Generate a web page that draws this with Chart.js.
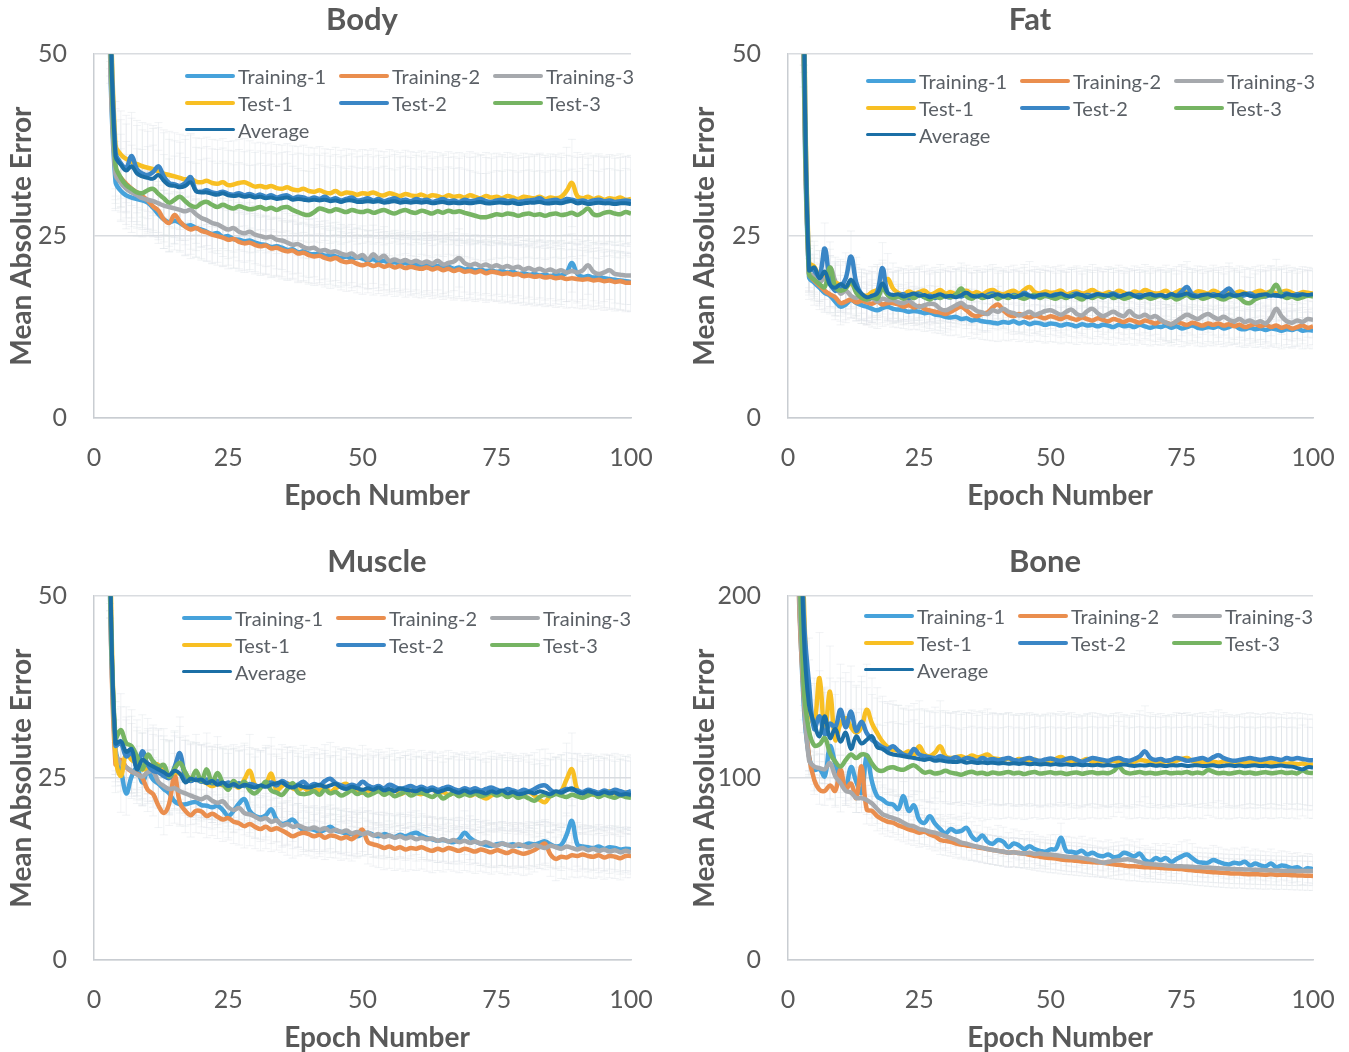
<!DOCTYPE html>
<html>
<head>
<meta charset="utf-8">
<script src="https://cdn.jsdelivr.net/npm/chart.js@4.4.0/dist/chart.umd.min.js"></script>
<style>
  html, body { margin: 0; padding: 0; background: #fff; overflow: hidden; width: 1349px; height: 1052px; }
  .panel { position: absolute; }
  .legend { position: absolute; display: grid; grid-template-columns: 154px 154px 154px; grid-auto-rows: 27px;
            font: 20px Lato, sans-serif; color: #5b6066; }
  .item { display: flex; align-items: center; white-space: nowrap; }
  .swatch { width: 50px; height: 4px; border-radius: 2px; margin-right: 3px; flex: none; }
</style>
</head>
<body>
<div class="panel" style="left:0;top:0;width:674px;height:510px"><canvas id="body"></canvas></div>
<div class="panel" style="left:674px;top:0;width:675px;height:510px"><canvas id="fat"></canvas></div>
<div class="panel" style="left:0;top:542px;width:674px;height:510px"><canvas id="muscle"></canvas></div>
<div class="panel" style="left:674px;top:542px;width:675px;height:510px"><canvas id="bone"></canvas></div>

<script>
// series names and colours
const seriesNames = ['Training-1', 'Training-2', 'Training-3', 'Test-1', 'Test-2', 'Test-3', 'Average'];
const seriesColors = ['#46a2db', '#ea8e4e', '#a6a9ad', '#f8bf23', '#3a86c6', '#76b463', '#1b6fa6'];

// epochs 1..100
const epochs = [];
for (let i = 1; i <= 100; i++) epochs.push(i);

// ---------- Body ----------
const bodyTraining1 = [230,100,50,32.5,31.2,30.6,30.3,30.1,29.9,29.6, 28.9,28.0,27.3,26.9,27.1,26.8,26.4,26.5,26.1,25.9,
  25.6,25.3,25.4,24.9,25.0,24.6,24.5,24.3,24.4,24.1, 23.9,23.8,23.5,23.6,23.4,23.1,23.2,22.8,22.9,22.6,
  22.5,22.6,22.3,22.4,22.2,22.0,22.2,21.9,22.1,21.9, 21.7,21.8,21.5,21.6,21.3,21.4,21.2,21.3,21.0,21.1,
  20.9,21.0,20.8,20.9,20.7,20.8,20.5,20.7,20.4,20.5, 20.3,20.4,20.2,20.3,20.1,20.2,20.0,20.1,19.8,19.9,
  19.7,19.8,19.6,19.7,19.5,19.7,19.6,20.0,21.3,19.8, 19.4,19.5,19.3,19.4,19.2,19.1,19.0,18.9,18.8,18.7];
const bodyTraining2 = [240,105,52,34.0,33.0,32.2,31.5,31.0,30.5,29.9, 29.1,28.5,27.3,26.8,27.9,27.0,26.3,25.9,26.1,25.7,
  25.5,25.2,25.0,24.8,24.5,24.6,24.2,24.0,24.1,23.8, 23.6,23.7,23.3,23.4,23.1,22.9,23.0,22.6,22.7,22.4,
  22.2,22.3,22.0,21.8,22.0,21.6,21.4,21.5,21.2,21.0, 21.2,20.9,21.1,20.8,21.0,20.7,20.9,20.6,20.8,20.6,
  20.5,20.7,20.4,20.6,20.3,20.5,20.2,20.4,20.1,20.2, 20.0,20.2,19.9,20.1,20.0,19.8,19.9,19.7,19.8,19.5,
  19.6,19.4,19.5,19.3,19.4,19.2,19.3,19.1,19.2,19.1, 19.0,19.1,18.9,19.0,18.8,18.9,18.7,18.8,18.6,18.6];
const bodyTraining3 = [235,102,51,33.5,32.3,31.5,31.0,30.6,30.2,30.0, 29.8,29.5,29.2,29.0,28.8,28.6,28.4,28.6,28.0,27.5,
  27.2,26.8,26.6,26.2,25.9,26.1,25.6,25.4,25.6,25.2, 25.0,24.8,24.9,24.5,24.4,24.1,23.8,23.9,23.5,23.3,
  23.4,23.0,23.1,22.8,22.9,22.6,22.4,22.6,22.1,22.4, 21.8,22.5,21.9,22.3,21.6,21.8,21.5,21.7,21.4,21.6,
  21.3,21.5,21.2,21.6,21.1,21.3,21.5,22.0,21.3,21.0, 21.2,20.9,21.1,20.8,21.0,20.7,20.9,20.6,20.8,20.4,
  20.6,20.3,20.5,20.2,20.4,20.1,20.3,20.0,20.2,20.0, 20.3,21.0,20.1,19.8,20.0,20.3,19.8,19.7,19.6,19.6];
const bodyTest1 = [300,130,62,37.5,36.2,35.6,35.2,34.9,34.6,34.4, 34.2,33.9,33.6,33.4,33.2,33.0,32.8,32.9,32.5,32.4,
  32.6,32.3,32.2,32.4,32.0,32.1,32.3,32.4,32.1,31.8, 31.9,31.7,31.9,31.6,31.5,31.7,31.4,31.3,31.5,31.2,
  31.1,31.3,31.0,30.9,31.2,30.8,31.0,30.9,30.7,30.9, 30.8,31.0,30.7,30.6,30.9,30.7,30.5,30.8,30.6,30.5,
  30.7,30.4,30.6,30.5,30.3,30.6,30.4,30.5,30.3,30.6, 30.4,30.2,30.5,30.3,30.4,30.2,30.5,30.3,30.1,30.4,
  30.3,30.2,30.4,30.1,30.3,30.2,30.4,31.2,32.3,30.5, 30.2,30.4,30.1,30.3,30.0,30.2,30.1,30.3,30.0,30.1];
const bodyTest2 = [280,125,60,36.5,35.0,34.4,36.0,34.2,33.6,33.4, 33.8,34.6,33.2,32.3,32.1,31.9,32.3,33.1,31.2,31.1,
  31.3,31.0,30.9,31.1,30.8,30.7,30.9,30.6,30.8,30.5, 30.7,30.4,30.6,30.3,30.5,30.6,30.2,30.4,30.3,30.1,
  30.3,30.1,30.4,30.0,30.2,29.9,30.1,30.3,29.9,30.0, 30.2,29.9,30.1,29.8,30.0,30.2,29.9,30.0,29.8,30.1,
  29.9,30.0,29.7,29.9,30.1,29.8,29.9,29.7,30.0,29.8, 29.9,30.1,29.8,29.7,29.9,30.0,29.8,29.9,29.7,29.8,
  29.9,30.0,30.2,29.8,29.9,30.0,29.8,30.1,30.0,29.8, 29.9,29.7,29.9,30.0,29.8,29.9,29.7,29.8,29.9,29.8];
const bodyTest3 = [260,115,55,34.8,33.0,32.0,31.5,31.0,30.9,31.3, 31.5,30.8,30.2,29.6,30.0,30.4,29.8,29.2,29.0,29.5,
  29.7,29.3,29.0,29.3,29.0,28.8,29.1,28.9,28.7,28.8, 29.0,28.7,28.9,28.6,28.9,29.0,28.6,28.3,28.0,27.9,
  28.3,28.8,28.6,28.4,28.7,28.5,28.3,28.6,28.4,28.3, 28.5,28.2,28.4,28.6,28.3,28.1,28.4,28.6,28.3,28.2,
  28.5,28.3,28.1,28.4,28.2,28.5,28.3,28.4,28.2,28.0, 27.8,27.6,27.6,27.8,28.0,27.9,28.1,28.0,27.8,28.0,
  28.1,27.9,28.0,27.8,28.0,28.1,27.9,28.0,28.2,27.9, 28.3,28.8,28.0,27.9,28.2,28.3,28.1,28.0,28.3,28.1];
const bodyAverage = [270,120,58,36.0,34.8,34.0,34.6,33.6,33.2,33.0, 32.9,33.4,32.6,32.0,31.9,31.7,31.9,32.4,31.2,31.0,
  31.0,30.8,30.7,30.9,30.6,30.5,30.6,30.4,30.5,30.3, 30.4,30.2,30.3,30.1,30.2,30.3,30.0,30.1,30.0,29.9,
  30.0,29.9,30.0,29.8,29.9,29.7,29.9,29.9,29.7,29.7, 29.8,29.7,29.8,29.6,29.7,29.8,29.6,29.7,29.6,29.7,
  29.6,29.7,29.5,29.6,29.7,29.5,29.6,29.5,29.6,29.5, 29.6,29.7,29.5,29.5,29.6,29.6,29.5,29.6,29.4,29.5,
  29.6,29.6,29.7,29.5,29.5,29.6,29.5,29.7,29.8,29.5, 29.6,29.4,29.5,29.6,29.5,29.5,29.4,29.5,29.5,29.4];
const bodyErr = [4, 4, 4, 6, 6, 6, 0];

// ---------- Fat ----------
const fatTraining1 = [230,100,48,19.4,18.6,17.9,17.2,16.8,16.0,15.3, 15.6,16.2,15.8,15.5,15.3,15.0,14.8,15.1,15.3,15.0,
  14.9,14.8,14.6,14.7,14.6,14.4,14.5,14.2,14.1,13.9, 13.8,13.9,13.6,13.7,13.4,13.5,13.3,13.2,13.1,13.0,
  13.2,13.1,13.3,13.0,13.2,12.9,13.1,13.0,12.8,13.0, 12.9,12.7,12.9,12.8,12.6,12.9,12.7,12.8,12.6,12.8,
  12.7,12.5,12.8,12.6,12.7,12.5,12.8,12.6,12.4,12.6, 12.5,12.7,12.4,12.6,12.3,12.5,12.7,12.4,12.3,12.5,
  12.4,12.6,12.3,12.5,12.7,12.3,12.2,12.4,12.2,12.3, 12.1,12.3,12.2,12.0,12.2,12.1,12.3,12.0,12.1,12.0];
const fatTraining2 = [235,102,50,19.8,18.9,18.2,17.5,17.0,16.6,15.8, 16.0,16.3,15.9,16.1,15.9,15.7,16.0,15.6,15.8,15.8,
  15.6,15.3,15.5,15.2,15.4,15.0,14.8,14.6,14.5,14.3, 14.6,15.0,15.3,14.8,14.2,14.0,14.3,14.5,15.2,15.6,
  14.8,14.2,14.0,14.3,14.0,13.8,14.1,13.9,13.7,14.0, 13.8,13.6,13.9,13.7,13.5,13.8,13.6,13.4,13.7,13.5,
  13.3,13.6,13.4,13.2,13.5,13.3,13.1,13.4,13.2,13.0, 13.3,13.1,12.9,13.2,13.0,12.8,13.1,12.9,12.7,13.0,
  12.8,13.0,12.7,12.9,12.6,12.8,12.5,12.7,12.9,12.6, 12.8,12.5,12.7,12.4,12.6,12.3,12.5,12.7,12.4,12.6];
const fatTraining3 = [240,104,51,20.0,19.5,18.7,19.4,20.7,18.8,17.1, 17.5,16.8,16.5,16.9,16.2,16.5,16.0,16.4,16.2,16.2,
  15.9,15.8,16.1,15.6,15.3,15.5,15.7,15.6,15.0,14.8, 15.1,15.5,15.8,15.3,15.2,14.7,14.5,14.3,14.8,14.6,
  15.0,14.6,14.4,14.1,14.3,14.6,14.2,14.4,14.7,14.8, 14.5,14.2,14.6,14.9,14.3,14.1,14.7,15.0,14.4,14.0,
  14.3,14.6,14.2,14.0,14.7,14.1,13.9,14.2,13.8,14.0, 13.5,13.1,12.9,13.3,13.8,14.2,13.9,13.6,14.0,14.3,
  13.9,13.6,13.9,13.5,13.3,13.6,13.2,13.4,13.1,13.3, 13.0,13.8,15.0,14.0,13.3,13.1,13.4,13.2,13.6,13.5];
const fatTest1 = [270,118,60,21.4,20.8,19.5,19.8,18.8,18.6,18.3, 18.0,18.5,17.6,17.0,16.8,17.3,17.6,18.2,19.1,17.8,
  17.2,17.0,17.4,17.1,17.3,17.5,17.0,17.2,17.6,17.1, 17.3,17.0,17.2,17.5,17.1,17.3,17.0,17.4,17.6,17.2,
  17.0,17.3,17.5,17.1,17.6,18.0,17.3,17.1,17.4,17.2, 17.3,17.5,17.0,17.2,17.4,17.1,17.3,17.6,17.2,17.0,
  17.3,17.1,17.5,17.2,17.0,17.4,17.2,17.6,17.3,17.1, 17.2,17.5,17.0,17.3,17.6,17.2,17.0,17.4,17.3,17.1,
  17.5,17.2,17.0,17.3,17.1,17.4,17.2,17.0,17.3,17.5, 17.2,17.4,17.1,17.3,17.5,17.2,17.0,17.3,17.2,17.1];
const fatTest2 = [260,115,58,20.8,20.2,19.5,23.3,18.8,17.5,18.0, 19.2,22.2,18.6,16.9,16.4,16.6,17.3,20.6,17.0,16.6,
  16.8,17.0,16.5,16.9,17.1,16.6,16.8,16.5,16.9,16.7, 16.6,16.9,16.7,17.0,16.5,16.8,16.6,16.9,17.1,16.7,
  16.8,16.6,16.9,16.7,17.2,16.8,16.6,16.9,16.8,16.7, 17.0,16.8,16.6,16.9,17.1,16.7,16.9,16.8,17.0,16.6,
  16.9,17.1,16.8,16.7,17.0,16.8,16.9,16.7,17.0,16.8, 16.9,16.7,17.0,16.8,17.4,18.0,17.0,16.8,16.9,16.7,
  17.0,16.8,17.3,17.8,17.0,16.7,16.9,17.1,16.8,16.9, 16.7,17.0,16.8,16.9,17.1,16.8,17.0,16.9,16.8,17.0];
const fatTest3 = [240,105,52,19.8,19.0,18.4,18.0,20.7,18.0,17.5, 17.8,18.8,17.2,16.5,16.3,16.6,16.4,17.8,16.9,16.5,
  16.7,16.4,16.8,16.5,16.9,16.6,16.3,16.7,16.5,16.8, 16.6,17.0,17.8,16.7,16.4,16.8,16.5,16.7,16.9,16.4,
  16.7,16.5,16.8,16.6,16.4,16.7,16.9,16.5,16.8,16.6, 16.4,16.7,16.5,16.9,16.6,16.3,16.7,16.5,16.8,16.6,
  16.9,16.5,16.7,16.4,16.6,16.8,16.5,16.7,16.4,16.6, 16.8,16.5,16.7,16.3,16.6,16.9,16.5,16.7,16.4,16.6,
  16.8,16.5,16.3,16.6,16.8,16.5,15.9,15.8,16.3,16.6, 16.8,17.4,18.3,17.0,16.5,16.7,16.4,16.6,16.8,16.7];
const fatAverage = [250,110,55,20.3,20.7,19.2,20.1,18.3,17.9,18.4, 18.0,19.0,17.9,17.1,16.6,16.8,17.1,18.5,17.2,16.9,
  17.0,16.7,16.9,17.1,16.8,16.9,16.6,16.8,17.0,16.7, 16.8,16.6,16.9,17.2,16.8,16.7,16.9,16.6,16.8,17.0,
  16.7,16.9,16.6,16.8,17.0,16.8,16.7,16.9,17.0,16.8, 16.9,17.1,16.8,16.7,17.0,16.9,16.6,16.8,17.0,16.9,
  16.8,17.0,16.7,16.9,17.1,16.8,16.6,16.9,17.0,16.8, 16.9,16.7,17.0,16.8,16.9,17.1,16.8,16.7,16.9,17.0,
  16.8,16.9,16.7,17.0,16.8,16.9,17.1,16.8,16.7,16.9, 17.0,16.8,16.9,16.7,17.0,16.9,16.8,17.0,16.9,17.0];
const fatErr = [2.5, 2.5, 2.5, 3.5, 3.5, 3.5, 0];

// ---------- Muscle ----------
const muscleTraining1 = [240,100,50,29.0,26.2,22.9,25.2,26.4,24.4,25.9, 24.8,24.2,23.5,22.9,21.8,21.4,21.4,21.6,21.7,21.3,
  21.2,21.0,21.2,20.6,19.8,20.5,21.5,22.1,20.5,19.8, 19.6,19.9,20.7,19.3,18.7,18.9,19.3,18.5,17.9,18.0,
  17.9,17.6,17.9,18.3,17.8,17.6,17.4,17.3,17.0,17.3, 17.5,17.2,17.0,17.3,17.1,16.9,17.2,17.0,17.3,17.5,
  17.1,16.8,16.6,16.4,16.5,16.3,16.2,16.6,17.5,16.8, 16.3,16.0,15.8,15.7,15.9,16.0,15.8,15.9,15.7,15.8,
  16.0,15.9,16.1,16.3,15.9,15.6,15.8,17.2,19.1,15.9, 15.6,15.5,15.4,15.6,15.3,15.5,15.4,15.2,15.3,15.2];
const muscleTraining2 = [245,102,51,26.9,27.5,26.5,25.9,25.6,25.0,23.4, 22.8,21.2,20.2,21.5,25.4,21.6,20.5,19.9,20.5,20.4,
  19.8,20.1,19.7,19.3,19.5,19.0,18.8,18.4,18.7,18.3, 18.0,18.3,17.9,18.1,17.8,17.4,17.0,17.3,17.5,17.3,
  17.0,17.2,16.8,17.1,17.0,16.7,16.9,16.6,17.2,17.9, 16.2,15.9,15.7,15.4,15.6,15.3,15.5,15.2,15.4,15.3,
  15.5,15.2,15.0,15.3,15.1,15.4,15.2,15.0,15.3,15.1, 14.9,15.2,15.0,14.8,15.1,14.9,14.7,15.0,14.8,14.6,
  14.8,15.1,15.6,16.0,14.5,13.9,14.2,14.1,14.4,14.3, 14.5,14.3,14.2,14.4,14.1,14.3,14.2,14.0,14.3,14.3];
const muscleTraining3 = [242,101,50,28.5,27.0,26.5,26.0,25.5,25.2,25.8, 25.9,24.5,23.9,23.5,23.6,23.2,22.9,22.6,22.3,22.1,
  22.4,21.9,21.6,21.8,21.0,20.6,20.9,20.2,20.0,19.7, 19.3,19.5,19.0,19.2,18.5,18.7,18.3,18.5,18.2,18.0,
  18.2,17.9,18.1,17.7,17.9,17.6,17.8,17.4,17.6,17.3, 17.5,17.1,17.3,16.9,17.1,16.8,17.0,16.7,16.9,16.6,
  16.8,16.6,16.7,16.4,16.6,16.3,16.5,16.2,16.4,16.1, 16.3,16.0,16.2,15.9,15.7,16.0,15.8,15.6,15.9,15.7,
  15.5,15.8,15.6,15.4,15.7,15.5,15.3,15.6,15.4,15.2, 15.4,15.1,15.3,15.0,15.2,14.9,15.1,14.8,15.0,14.8];
const muscleTest1 = [270,115,58,28.0,25.3,28.4,27.5,27.0,26.2,26.5, 26.9,26.8,25.8,25.2,25.8,25.6,25.2,25.0,24.8,24.6,
  24.3,23.9,24.2,24.0,23.9,24.1,23.7,24.8,26.0,24.0, 23.8,24.2,25.6,23.3,23.9,24.3,23.6,23.4,23.7,23.2,
  23.5,23.3,23.8,23.1,23.6,24.0,24.2,23.4,23.2,23.0, 23.3,23.1,23.5,22.9,23.2,23.4,22.8,23.1,23.3,23.0,
  22.8,23.2,23.5,22.9,23.1,22.7,23.0,23.3,23.1,22.6, 22.8,22.5,22.2,22.6,22.9,23.1,22.8,23.0,22.7,22.9,
  23.1,22.6,22.0,21.7,22.6,22.9,23.2,24.8,26.2,23.4, 22.9,23.1,22.7,23.0,22.8,23.2,22.9,22.6,23.0,22.8];
const muscleTest2 = [255,108,54,29.5,29.8,28.0,28.5,26.5,28.7,26.8, 26.0,25.8,25.3,25.0,26.5,28.4,25.2,24.6,24.9,24.5,
  24.8,24.3,24.6,24.1,24.4,24.0,24.3,23.9,24.2,24.0, 23.8,24.1,24.4,24.0,24.6,24.2,23.8,24.1,24.5,23.9,
  24.2,24.0,24.6,24.9,24.3,24.0,23.8,24.1,23.9,24.5, 24.0,23.7,23.9,23.6,24.1,23.8,23.5,23.7,23.9,23.6,
  23.8,23.5,23.7,23.4,23.6,23.8,23.5,23.3,23.6,23.4, 23.6,23.3,23.5,23.7,23.4,23.2,23.5,23.3,23.1,23.4,
  23.2,23.5,23.9,24.0,23.4,22.9,23.2,23.5,23.4,23.3, 23.1,23.4,23.2,23.0,23.3,23.1,23.4,23.2,23.0,23.2];
const muscleTest3 = [250,108,53,30.5,31.6,29.8,29.4,28.0,26.2,28.2, 27.3,26.6,26.8,25.2,26.3,27.1,25.8,24.8,26.0,24.6,
  26.2,24.4,25.7,24.3,23.4,24.6,23.8,24.5,23.3,22.9, 23.6,24.5,23.3,23.0,22.7,23.5,24.3,23.0,22.8,22.9,
  23.2,22.7,23.4,22.9,23.1,22.6,22.9,23.3,22.8,23.1, 22.6,22.9,23.2,22.7,23.0,22.5,22.8,23.1,22.6,22.9,
  23.0,22.7,22.4,22.8,22.2,22.6,22.9,22.5,22.8,22.6, 22.9,22.5,22.7,23.0,22.6,22.8,22.4,22.7,22.3,22.5,
  22.2,21.9,22.4,22.7,22.5,22.8,22.6,22.4,22.7,22.5, 22.3,22.6,22.8,22.4,22.7,22.5,22.3,22.6,22.4,22.3];
const muscleAverage = [260,110,55,29.8,30.1,28.6,29.0,26.2,27.5,27.0, 26.6,26.2,25.8,25.4,26.0,25.6,24.4,24.9,24.7,24.8,
  24.3,24.6,24.1,24.4,23.9,24.2,23.8,24.1,23.9,23.7, 24.0,23.8,24.1,24.3,24.4,23.9,23.7,24.0,23.8,23.7,
  23.9,24.1,23.8,24.0,24.2,23.7,23.5,23.8,23.6,23.4, 23.6,23.4,23.7,23.3,23.5,23.2,23.6,23.4,23.3,23.2,
  23.5,23.2,23.4,23.1,23.3,23.5,23.2,23.0,23.3,23.0, 23.2,23.1,22.9,23.2,23.0,23.3,22.9,23.1,22.8,22.9,
  23.1,22.9,23.2,23.0,22.8,23.2,23.0,23.3,23.6,23.1, 22.9,23.2,23.0,22.8,23.1,22.9,23.0,22.7,22.8,22.7];
const muscleErr = [3, 3, 3, 5, 5, 5, 0];

// ---------- Bone ----------
const boneTraining1 = [500,220,140,112,104.6,105,101,117.5,108,100, 95.5,106,98,91.9,112.4,98,90,88.2,86,85.5,
  83,90.1,82,85,77,75.4,79,75,72,69.6, 72,70.5,71,72.7,68,66,68.5,65,63.9,66,
  65,62,64,63,61,62.5,61,60,59.5,60.8, 61,67.2,60,59.5,59,60,58,59,57.5,57,
  58,56.5,57,59,58,57,58.5,55,54,56, 55,56,54,55.5,57,58,56,54,53.5,53.5,
  55,54,53,52.5,53.5,53,54,52,53,52, 51.5,53,51,52,51.5,50.5,51,49.5,50.5,49.9];
const boneTraining2 = [480,210,145,112,99,93.6,93,96,93,104.6, 94,97,89.1,106.4,82.8,82,79,77.3,76,75.5,
  74,73,71.8,71,70,70.5,69,68,66,65.5, 65,64,63.5,63,62.7,62,61.5,61,60.5,60,
  59.5,59,59.2,58.8,58.5,57.8,57.3,56.8,56.4,56, 55.8,55.3,55,54.8,54.5,54.2,54,53.8,53.6,53.5,
  53,52.6,52.3,52,51.5,51.6,51.2,51,50.9,50.8, 50.6,50.4,50.3,50.1,50,49.6,49.3,49,48.8,48.5,
  48.3,48.1,47.9,47.7,47.5,47.6,47.3,47.1,47.2,47, 46.9,47.1,46.8,46.9,46.8,46.6,46.5,46.4,46.3,46.2];
const boneTraining3 = [490,215,148,110,106.4,105.5,104.9,108.2,101,97.3, 93,92,89.1,89,88,86,83,80.2,79,78,
  77,75.5,74,73.5,72,71.5,70.5,70,69,68.1, 67,66,64.5,64,63,62.4,61.8,61,60.5,60,
  59.6,59,59.2,58.8,58.6,58.9,58.3,58.5,58.1,58, 57.6,57.2,56.8,56.5,56.5,56,55.5,55,54.2,53.5,
  54,54.5,54.8,55.2,55.3,54.6,53.8,53,52.8,52.5, 52.3,52,51.8,51.6,51.5,51.4,51.2,51,50.9,50.8,
  50.6,50.4,50.3,50.1,50,49.9,49.8,49.7,49.6,49.5, 49.4,49.3,49.2,49.1,49,49,48.9,49,48.9,48.9];
const boneTest1 = [750,330,200,140,130,155,125,147.6,121,130, 133,128,125,128,137.6,130,124.7,120,117,115.5,
  115,113.5,114.7,112.5,117.5,113,112,114,117.5,112, 111,111.5,112,111,112.4,111.5,112,113,111,110.5,
  110,110.8,109.5,110.5,110,109.5,110.2,109,109.8,109.2, 110.5,111.6,110,109,108.5,109.5,110.5,109,108.5,109.3,
  108.8,109.5,108.7,109.2,108.5,109,110,109.5,108.8,109, 108.5,109.2,108.7,109.5,110.5,111,109.5,108.8,109,108.5,
  109,108.5,109.2,108.8,108.5,109,108.2,108.7,108.4,108.8, 108.2,108.6,108,108.4,107.8,108.2,107.6,108,107.4,107.5];
const boneTest2 = [700,320,190,152,127,134,124,130,128,137.6, 128,136.6,126,131,124.7,121,119,117,116,117.5,
  115,113,112.4,116,113,112,111.5,111,112,111, 110.5,111.5,110,111,110.5,109.5,111,110,110.5,109.8,
  110.5,111,110,109.5,110.5,111,110,109.5,110.2,110.8, 110,109.5,110.5,111,110,109,110,111,110.5,110,
  109.5,110.5,111,110,109.5,110.5,112,114.7,111,110, 110.5,109.5,110,111,110.5,109.5,110,110.5,111,110,
  111.5,112.5,111,110,109.5,110,110.5,111,110.5,110, 110.5,111,110.5,110,111,110.5,111,110.5,110,109.8];
const boneTest3 = [550,250,150,126,118,118.5,122,113.7,109,106.4, 110,113,111,113,112.5,108,104.6,104,105.5,106,
  105,104.6,106,107,105,103,103.5,102.5,103,104, 103,102.5,101.9,102.8,103.5,102.6,103,102.2,103.1,102.5,
  102.8,103.4,102.6,103,102.2,102.9,103.3,102.5,102.8,103.2, 102.6,103,102.3,102.8,103.1,102.4,102.9,103.2,102.6,103,
  102.7,103.8,106.2,103.5,102.6,102.9,103.3,102.7,103,102.5, 102.9,103.2,102.6,103,102.8,103.4,102.6,103.1,102.7,104.5,
  103.5,102.7,103,102.5,102.9,103.3,102.8,103.1,102.5,102.9, 103.2,102.7,103,103.3,102.8,103.1,102.6,104.2,103,102.8];
const boneAverage = [650,300,180,140,130,123,134,122,127,120, 125,116,123,119,121,123,117,116,114,113,
  112.5,112,111.5,111,110.5,110,110.5,109.5,109.8,109.2, 109,108.8,109.2,108.5,108.8,108.3,108.6,108.2,108.5,108,
  108.3,107.9,108.2,107.8,108.1,107.6,107.9,107.5,107.8,107.4, 107.7,107.3,107.6,107.2,107.5,107.1,107.4,107,107.3,106.9,
  107.2,106.8,107.1,107.5,107,106.7,107.1,106.9,107.3,106.8, 107,106.6,107.1,106.9,107.2,106.7,106.9,107.1,106.6,106.8,
  107,106.5,106.8,107.1,106.7,106.9,106.5,106.8,107,106.6, 106.8,106.4,106.7,106.9,106.5,106.3,105.5,104.8,106,105.8];
const boneErr = [8, 8, 8, 25, 25, 25, 0];

const textColor = '#595959';
const fontFamily = 'Lato, sans-serif';

// faint error bars drawn under the lines
const errorBars = {
  id: 'errorBars',
  beforeDatasetsDraw(chart) {
    const {ctx, chartArea: a, scales: {x, y}} = chart;
    ctx.save();
    ctx.beginPath();
    ctx.rect(a.left, a.top, a.right - a.left, a.bottom - a.top);
    ctx.clip();
    ctx.strokeStyle = 'rgba(215,220,225,0.35)';
    ctx.lineWidth = 1;
    chart.data.datasets.forEach(ds => {
      if (!ds.err) return;
      ds.data.forEach(p => {
        const px = x.getPixelForValue(p.x);
        const y1 = y.getPixelForValue(p.y + ds.err);
        const y2 = y.getPixelForValue(p.y - ds.err);
        ctx.beginPath();
        ctx.moveTo(px, y1); ctx.lineTo(px, y2);
        ctx.moveTo(px - 4, y1); ctx.lineTo(px + 4, y1);
        ctx.moveTo(px - 4, y2); ctx.lineTo(px + 4, y2);
        ctx.stroke();
      });
    });
    ctx.restore();
  }
};

// place the chart title and the x axis title where the original has them
const titlePlace = {
  id: 'titlePlace',
  afterLayout(chart) {
    const opts = chart.options.plugins.titlePlace;
    const t = chart.titleBlock;
    if (t) { t.left = opts.cx - 150; t.right = opts.cx + 150; }
    const sx = chart.scales.x;
    if (sx && !sx._shifted) {
      const orig = sx.drawTitle;
      sx.drawTitle = function () {
        this.ctx.save();
        this.ctx.translate(opts.dx, 0);
        orig.call(this);
        this.ctx.restore();
      };
      sx._shifted = true;
    }
  }
};

function makeChart(cfg) {
  const datasets = cfg.series.map((vals, i) => ({
    label: seriesNames[i],
    data: vals.map((v, j) => ({x: epochs[j], y: v})),
    borderColor: seriesColors[i],
    backgroundColor: seriesColors[i],
    borderWidth: i === 6 ? 4 : 4.5,
    tension: 0.4,
    pointRadius: 0,
    order: 7 - i,
    err: cfg.err[i]
  }));

  new Chart(document.getElementById(cfg.id), {
    type: 'line',
    data: {datasets},
    plugins: [errorBars, titlePlace],
    options: {
      responsive: true,
      maintainAspectRatio: false,
      animation: false,
      layout: {padding: {left: cfg.padLeft, right: cfg.padRight, top: 0, bottom: 0}},
      plugins: {
        legend: {display: false},
        tooltip: {enabled: false},
        titlePlace: {cx: cfg.titleX, dx: cfg.xTitleShift},
        title: {
          display: true, text: cfg.title, color: textColor,
          font: {family: fontFamily, size: 31, weight: 'bold', lineHeight: 1.2},
          padding: {top: 1, bottom: 16}
        }
      },
      scales: {
        x: {
          type: 'linear', min: 0, max: 100,
          afterFit(s) { s.height = 92; s.paddingLeft = 0; s.paddingRight = 0; },
          grid: {display: false, drawTicks: false},
          border: {display: true, color: '#c9cdd2', width: 1.5},
          ticks: {stepSize: 25, color: textColor, padding: 25, font: {family: fontFamily, size: 25}},
          title: {display: true, text: 'Epoch Number', color: textColor, padding: 0,
                  font: {family: fontFamily, size: 28, weight: 'bold', lineHeight: 1}}
        },
        y: {
          min: 0, max: cfg.yMax,
          afterFit(s) { s.width = cfg.yWidth; },
          grid: {color: '#d9dce0', lineWidth: 1.5, drawTicks: false},
          border: {display: true, color: '#c9cdd2', width: 1.5},
          ticks: {stepSize: cfg.yMax / 2, color: textColor, padding: 27, font: {family: fontFamily, size: 25}},
          title: {display: true, text: 'Mean Absolute Error', color: textColor, padding: 0,
                  font: {family: fontFamily, size: 28, weight: 'bold', lineHeight: 1}}
        }
      }
    }
  });

  // legend inside the plot, three columns like the original
  const box = document.createElement('div');
  box.className = 'legend';
  box.style.left = cfg.legendLeft + 'px';
  box.style.top = cfg.legendTop + 'px';
  seriesNames.forEach((name, i) => {
    const item = document.createElement('div');
    item.className = 'item';
    const sw = document.createElement('span');
    sw.className = 'swatch';
    sw.style.background = seriesColors[i];
    if (i === 6) sw.style.height = '3.5px';
    const label = document.createElement('span');
    label.textContent = name;
    item.appendChild(sw);
    item.appendChild(label);
    box.appendChild(item);
  });
  document.body.appendChild(box);
}

makeChart({id: 'body', title: 'Body', titleX: 362, xTitleShift: 14.5, yMax: 50, padLeft: 8, padRight: 43, yWidth: 86,
  series: [bodyTraining1, bodyTraining2, bodyTraining3, bodyTest1, bodyTest2, bodyTest3, bodyAverage],
  err: bodyErr, legendLeft: 185, legendTop: 62});
makeChart({id: 'fat', title: 'Fat', titleX: 356, xTitleShift: 9.5, yMax: 50, padLeft: 17, padRight: 36, yWidth: 97,
  series: [fatTraining1, fatTraining2, fatTraining3, fatTest1, fatTest2, fatTest3, fatAverage],
  err: fatErr, legendLeft: 866, legendTop: 67});
makeChart({id: 'muscle', title: 'Muscle', titleX: 377, xTitleShift: 14.5, yMax: 50, padLeft: 8, padRight: 43, yWidth: 86,
  series: [muscleTraining1, muscleTraining2, muscleTraining3, muscleTest1, muscleTest2, muscleTest3, muscleAverage],
  err: muscleErr, legendLeft: 182, legendTop: 604});
makeChart({id: 'bone', title: 'Bone', titleX: 371, xTitleShift: 9.5, yMax: 200, padLeft: 17, padRight: 36, yWidth: 97,
  series: [boneTraining1, boneTraining2, boneTraining3, boneTest1, boneTest2, boneTest3, boneAverage],
  err: boneErr, legendLeft: 864, legendTop: 602});
</script>
</body>
</html>
